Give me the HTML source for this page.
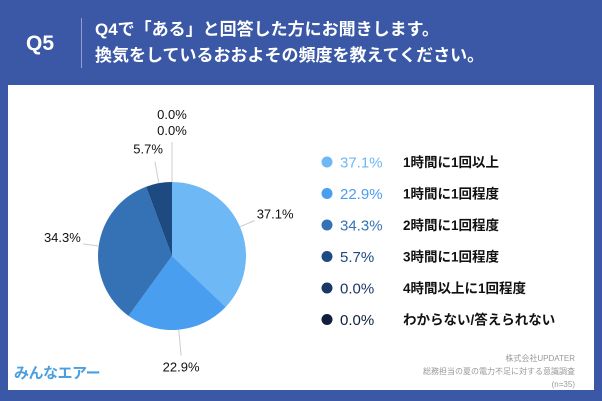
<!DOCTYPE html>
<html><head><meta charset="utf-8">
<style>
body{margin:0;width:602px;height:401px;overflow:hidden;background:#3b58a6;font-family:"Liberation Sans","Noto Sans CJK JP",sans-serif;}
#wrap{position:relative;width:602px;height:401px;}
.abs{position:absolute;}
</style></head><body>
<div id="wrap">
<div class="abs" style="left:26px;top:32px;font-size:21px;font-weight:bold;color:#fff;">Q5</div>
<div class="abs" style="left:81px;top:18px;width:1px;height:50px;background:#8ea0d0;"></div>
<div class="abs" style="left:95px;top:17px;font-size:17px;font-weight:bold;color:#fff;line-height:26px;">Q4で「ある」と回答した方にお聞きします。<br>換気をしているおおよその頻度を教えてください。</div>
<div class="abs" style="left:8px;top:85px;width:586px;height:305px;background:#fff;"></div>
<svg class="abs" id="chart" style="left:0;top:0" width="602" height="401"></svg>
<div class="abs" style="left:14px;top:362px;font-size:15px;font-weight:bold;color:#4a9fe0;letter-spacing:-0.5px;">みんなエアー</div>
<div class="abs" style="right:27px;top:352px;font-size:8px;color:#999;text-align:right;line-height:13px;">株式会社UPDATER<br>総務担当の夏の電力不足に対する意識調査<br>(n=35)</div>
</div>
<script>
const categories=["1時間に1回以上","1時間に1回程度","2時間に1回程度","3時間に1回程度","4時間以上に1回程度","わからない/答えられない"];
const values=[37.1,22.9,34.3,5.7,0.0,0.0];
const colors=["#6db8f5","#4a9ef0","#3572b5","#1d4a80","#1b3763","#0f1f3d"];
const NS="http://www.w3.org/2000/svg";
const svg=document.getElementById('chart');
const cx=172,cy=256,r=74;
const total=values.reduce((a,b)=>a+b,0);
function pt(a,rr){return [cx+rr*Math.sin(a),cy-rr*Math.cos(a)];}
let ang=0;
let zeroCount=0;
values.forEach((v,i)=>{
  const a0=ang,a1=ang+v/total*2*Math.PI;ang=a1;
  if(v>0){
    const p0=pt(a0,r),p1=pt(a1,r);
    const path=document.createElementNS(NS,'path');
    path.setAttribute('d',`M${cx},${cy}L${p0[0]},${p0[1]}A${r},${r} 0 ${a1-a0>Math.PI?1:0} 1 ${p1[0]},${p1[1]}Z`);
    path.setAttribute('fill',colors[i]);
    
    
    svg.appendChild(path);
  }
  const mid=(a0+a1)/2;
  let lx,ly,anchor;
  if(v>0){
    const c=Math.cos(mid),s=Math.sin(mid);
    const ext=c<-0.8?26:(c>0.8?22:16);
    const e=pt(mid,r),l=pt(mid,r+ext);
    const ln=document.createElementNS(NS,'line');
    ln.setAttribute('x1',e[0]);ln.setAttribute('y1',e[1]);ln.setAttribute('x2',l[0]);ln.setAttribute('y2',l[1]);
    ln.setAttribute('stroke','#ccc');ln.setAttribute('stroke-width','1');
    
    
    svg.appendChild(ln);
    if(c>0.8){anchor='end';lx=l[0]+8;ly=l[1]-8;}
    else if(c<-0.8){anchor='middle';lx=l[0];ly=l[1]+16;}
    else{anchor=s>0?'start':'end';lx=l[0]+(s>0?2:-2);ly=l[1]+(c>0?-2:4);}
  }else{
    anchor='middle';lx=cx;ly=cy-r-63+zeroCount*16;zeroCount++;
  }
  const t=document.createElementNS(NS,'text');
  t.setAttribute('x',lx);t.setAttribute('y',ly);t.setAttribute('text-anchor',anchor);
  t.setAttribute('font-size','13');t.setAttribute('fill','#111');
  t.textContent=v.toFixed(1)+'%';
  
  
  svg.appendChild(t);
});
if(zeroCount){
  const ln=document.createElementNS(NS,'line');
  ln.setAttribute('x1',cx);ln.setAttribute('y1',cy-r);ln.setAttribute('x2',cx);ln.setAttribute('y2',cy-r-40);
  ln.setAttribute('stroke','#ccc');
  
  
  svg.appendChild(ln);
}
categories.forEach((c,i)=>{
  const y=162+i*31.5;
  const dot=document.createElementNS(NS,'circle');
  dot.setAttribute('cx',327);dot.setAttribute('cy',y);dot.setAttribute('r',5.5);dot.setAttribute('fill',colors[i]);
  
  
  svg.appendChild(dot);
  const p=document.createElementNS(NS,'text');
  p.setAttribute('x',340);p.setAttribute('y',y+5.5);p.setAttribute('font-size','15');p.setAttribute('fill',colors[i]);
  p.textContent=values[i].toFixed(1)+'%';
  
  
  svg.appendChild(p);
  const t=document.createElementNS(NS,'text');
  t.setAttribute('x',403);t.setAttribute('y',y+5);t.setAttribute('font-size','13.5');t.setAttribute('font-weight','bold');t.setAttribute('fill','#111');
  t.textContent=c;
  
  
  svg.appendChild(t);
});
</script>
</body></html>
